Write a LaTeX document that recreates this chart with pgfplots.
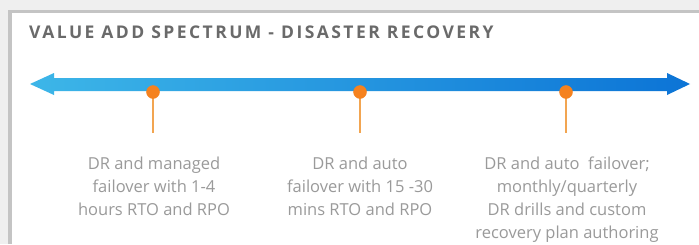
\documentclass[border=0pt]{standalone}
\usepackage{pgfplots}
\pgfplotsset{compat=1.18}
\usepackage{fontspec}
\setmainfont{Open Sans}
\newfontfamily\titlefont[LetterSpace=14]{Open Sans}
\definecolor{bgout}{HTML}{EFEFEF}
\definecolor{border}{HTML}{C4C4C4}
\definecolor{blueL}{HTML}{3DB6E8}
\definecolor{blueR}{HTML}{0C74D6}
\definecolor{dotc}{HTML}{F5821F}
\definecolor{stemc}{HTML}{F2A551}
\definecolor{txt}{HTML}{9A9A9A}
\definecolor{ttl}{HTML}{6A6A6A}
\begin{document}
\begin{tikzpicture}
\begin{axis}[
  scale only axis, width=699pt, height=244pt,
  xmin=0, xmax=699, ymin=0, ymax=244, y dir=reverse,
  axis lines=none, clip=false,
]
% background and panel
\fill[bgout] (axis cs:0,0) rectangle (axis cs:699,244);
\fill[white] (axis cs:10,11) rectangle (axis cs:699,244);
\fill[border] (axis cs:8,10) rectangle (axis cs:12,244);
\fill[border] (axis cs:8,10) rectangle (axis cs:699,13);
% title
\node[anchor=west, font=\titlefont\fontsize{17.5}{19}\selectfont\bfseries, text=ttl, inner sep=0pt]
  at (axis cs:29,32) {VALUE ADD SPECTRUM - DISASTER RECOVERY};
% arrow (double-headed)
\addplot[draw=none, left color=blueL, right color=blueR] coordinates {
  (30,84) (54,73) (54,78) (667,78) (667,73) (690,84) (667,95) (667,91) (54,91) (54,95) (30,84)
};
% stems
\addplot[stemc, line width=2.5pt] coordinates {(153,92) (153,133)};
\addplot[stemc, line width=2.5pt] coordinates {(360,92) (360,133)};
\addplot[stemc, line width=2.5pt] coordinates {(566,92) (566,133)};
% dots
\addplot[only marks, mark=*, mark size=6.5pt, dotc, mark options={draw=dotc, fill=dotc}] coordinates {(153,92) (360,92) (566,92)};
% labels
\begin{scope}[every node/.style={align=center, text=txt, font=\fontsize{16.5}{23}\selectfont, anchor=north, inner sep=0pt}]
\node at (axis cs:154,157) {DR and managed\\failover with 1-4\\hours RTO and RPO};
\node at (axis cs:360,157) {DR and auto\\failover with 15 -30\\mins RTO and RPO};
\node at (axis cs:567,157) {DR and auto\ \ failover;\\monthly/quarterly\\DR drills and custom\\recovery plan authoring};
\end{scope}
\end{axis}
\end{tikzpicture}
\end{document}
